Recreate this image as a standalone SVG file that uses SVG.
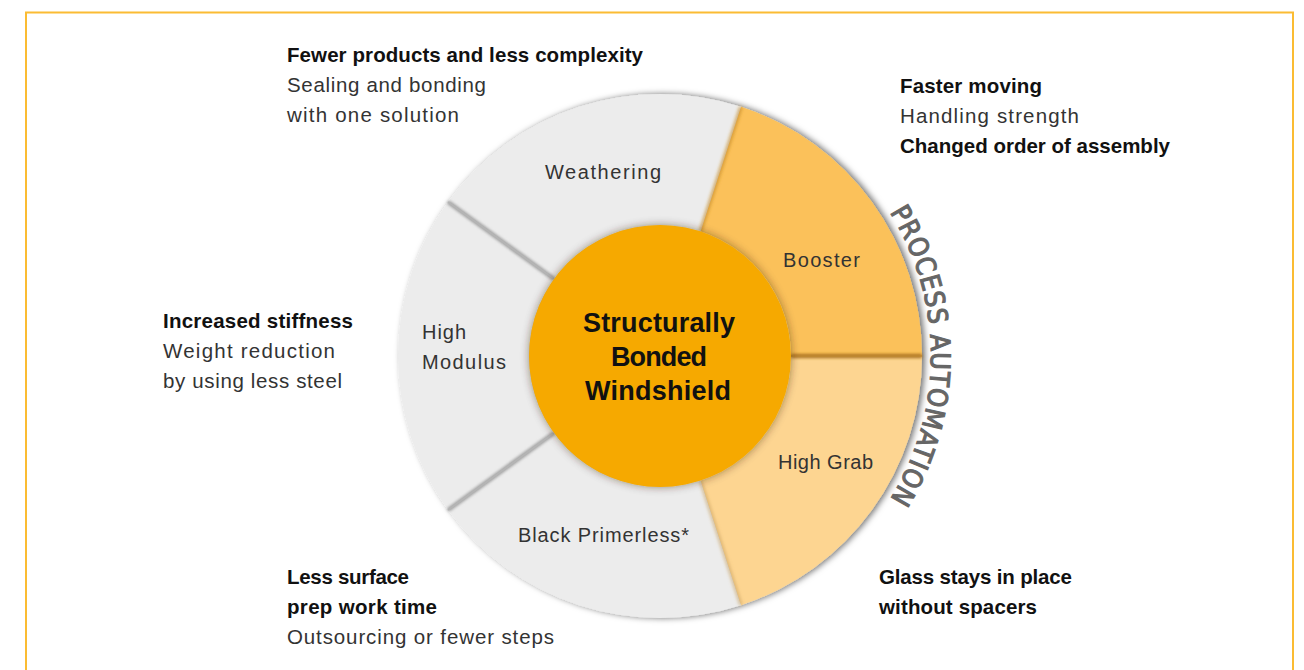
<svg xmlns="http://www.w3.org/2000/svg" width="1304" height="670" viewBox="0 0 1304 670">
<style>
.b{font-family:"Liberation Sans",Arial,sans-serif;font-weight:bold;font-size:20.5px;fill:#111}
.r{font-family:"Liberation Sans",Arial,sans-serif;font-size:20.5px;fill:#333}
.seg{font-family:"Liberation Sans",Arial,sans-serif;font-size:20px;fill:#333}
.ctr{font-family:"Liberation Sans",Arial,sans-serif;font-weight:bold;font-size:27px;fill:#111;text-anchor:middle}
.grey{fill:#ececec}
.div{stroke:#b4b4b4;stroke-width:2;fill:none}
.arc{font-family:"DejaVu Sans Condensed","DejaVu Sans",sans-serif;font-size:27px;fill:#666;stroke:#666;stroke-width:1.1}
</style>
<defs>
<filter id="ringShadow" x="-10%" y="-10%" width="120%" height="120%">
<feGaussianBlur in="SourceAlpha" stdDeviation="3"/>
<feOffset dx="2.5" dy="0" result="o"/>
<feFlood flood-color="#000" flood-opacity="0.55"/>
<feComposite in2="o" operator="in"/>
<feMerge><feMergeNode/><feMergeNode in="SourceGraphic"/></feMerge>
</filter>
<filter id="ctrShadow" x="-20%" y="-20%" width="140%" height="140%">
<feGaussianBlur in="SourceAlpha" stdDeviation="4" result="bl"/>
<feFlood flood-color="#3a2500" flood-opacity="0.5"/>
<feComposite in2="bl" operator="in"/>
<feMerge><feMergeNode/><feMergeNode in="SourceGraphic"/></feMerge>
</filter>
<filter id="lineShadow" x="-50%" y="-50%" width="200%" height="200%">
<feGaussianBlur stdDeviation="1.6"/>
</filter>
<path id="arcPath" d="M 889.8 212.4 A 271 271 0 0 1 889.8 499.6"/>
</defs>

<rect x="26" y="12.5" width="1267" height="700" fill="none" stroke="#fbbc33" stroke-width="2"/>

<g id="ring" filter="url(#ringShadow)">
<g id="booster"><path d="M 740.96 106.82 A 262 262 0 0 1 922 356 L 791 356 A 131 131 0 0 0 700.48 231.41 Z" fill="#fbc15a"/></g>
<g id="highgrab"><path d="M 922 356 A 262 262 0 0 1 740.96 605.18 L 700.48 480.59 A 131 131 0 0 0 791 356 Z" fill="#fdd591"/></g>
<g id="blackprimerless"><path class="grey" d="M 740.96 605.18 A 262 262 0 0 1 448.04 510 L 554.02 433 A 131 131 0 0 0 700.48 480.59 Z"/></g>
<g id="highmodulus"><path class="grey" d="M 448.04 510 A 262 262 0 0 1 448.04 202 L 554.02 279 A 131 131 0 0 0 554.02 433 Z"/></g>
<g id="weathering"><path class="grey" d="M 448.04 202 A 262 262 0 0 1 740.96 106.82 L 700.48 231.41 A 131 131 0 0 0 554.02 279 Z"/></g>
</g>

<g id="connectors">
<g filter="url(#lineShadow)" stroke-width="4" fill="none">
<line x1="554.02" y1="279" x2="448.04" y2="202" stroke="#9a9a9a"/>
<line x1="554.02" y1="433" x2="448.04" y2="510" stroke="#9a9a9a"/>
<line x1="700.48" y1="231.41" x2="740.96" y2="106.82" stroke="#c48a2a" stroke-opacity="0.6"/>
<line x1="791" y1="356" x2="922" y2="356" stroke="#a8701a"/>
<line x1="700.48" y1="480.59" x2="740.96" y2="605.18" stroke="#c8a060" stroke-opacity="0.5"/>
</g>
<line class="div" x1="554.02" y1="279" x2="448.04" y2="202"/>
<line class="div" x1="554.02" y1="433" x2="448.04" y2="510"/>
<line x1="791" y1="356" x2="922" y2="356" stroke="#c08a35" stroke-width="1.5"/>
</g>

<g id="center">
<circle cx="660" cy="356" r="131" fill="#f6a900" filter="url(#ctrShadow)"/>
<text class="ctr" x="659" y="332" textLength="152" lengthAdjust="spacing">Structurally</text>
<text class="ctr" x="659" y="366" textLength="96" lengthAdjust="spacing">Bonded</text>
<text class="ctr" x="658" y="400" textLength="146" lengthAdjust="spacing">Windshield</text>
</g>

<g id="segment-labels">
<text class="seg" x="545" y="179" textLength="116" lengthAdjust="spacing">Weathering</text>
<text class="seg" x="783" y="267" textLength="77" lengthAdjust="spacing">Booster</text>
<text class="seg" x="422" y="339" textLength="44" lengthAdjust="spacing">High</text>
<text class="seg" x="422" y="369" textLength="84" lengthAdjust="spacing">Modulus</text>
<text class="seg" x="778" y="469" textLength="95" lengthAdjust="spacing">High Grab</text>
<text class="seg" x="518" y="542" textLength="171" lengthAdjust="spacing">Black Primerless*</text>
</g>

<g id="process-automation">
<text class="arc"><textPath href="#arcPath" textLength="302" lengthAdjust="spacing">PROCESS AUTOMATION</textPath></text>
</g>

<g id="label-weathering">
<text class="b" x="287" y="62" textLength="356" lengthAdjust="spacing">Fewer products and less complexity</text>
<text class="r" x="287" y="92" textLength="199" lengthAdjust="spacing">Sealing and bonding</text>
<text class="r" x="287" y="122" textLength="172" lengthAdjust="spacing">with one solution</text>
</g>

<g id="label-booster">
<text class="b" x="900" y="93" textLength="142" lengthAdjust="spacing">Faster moving</text>
<text class="r" x="900" y="123" textLength="179" lengthAdjust="spacing">Handling strength</text>
<text class="b" x="900" y="153" textLength="270" lengthAdjust="spacing">Changed order of assembly</text>
</g>

<g id="label-highmodulus">
<text class="b" x="163" y="328" textLength="190" lengthAdjust="spacing">Increased stiffness</text>
<text class="r" x="163" y="358" textLength="172" lengthAdjust="spacing">Weight reduction</text>
<text class="r" x="163" y="388" textLength="179" lengthAdjust="spacing">by using less steel</text>
</g>

<g id="label-blackprimerless">
<text class="b" x="287" y="584" textLength="122" lengthAdjust="spacing">Less surface</text>
<text class="b" x="287" y="614" textLength="150" lengthAdjust="spacing">prep work time</text>
<text class="r" x="287" y="644" textLength="267" lengthAdjust="spacing">Outsourcing or fewer steps</text>
</g>

<g id="label-highgrab">
<text class="b" x="879" y="584" textLength="193" lengthAdjust="spacing">Glass stays in place</text>
<text class="b" x="879" y="614" textLength="158" lengthAdjust="spacing">without spacers</text>
</g>
</svg>
